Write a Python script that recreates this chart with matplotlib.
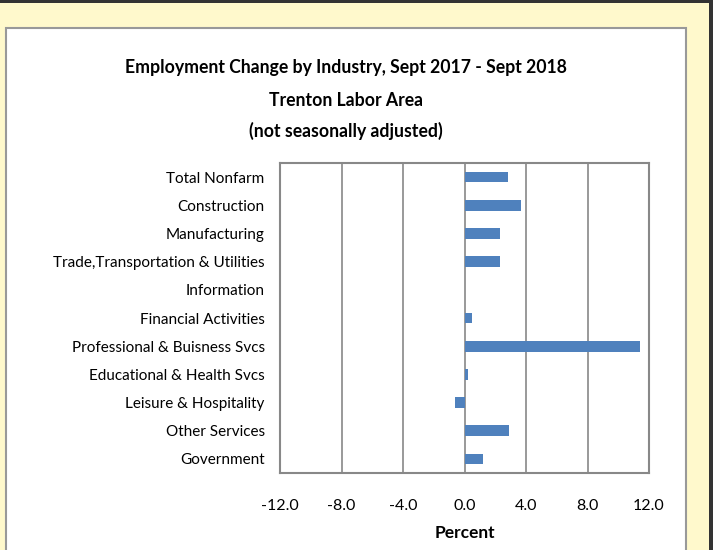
import matplotlib
matplotlib.use("Agg")
import matplotlib.pyplot as plt
from matplotlib.patches import Rectangle
import numpy as np

# Datos
industries = [
    "Total Nonfarm",
    "Construction",
    "Manufacturing",
    "Trade,Transportation & Utilities",
    "Information",
    "Financial Activities",
    "Professional & Buisness Svcs",
    "Educational & Health Svcs",
    "Leisure & Hospitality",
    "Other Services",
    "Government",
]
pct_change = [2.8, 3.7, 2.3, 2.3, 0.0, 0.5, 11.4, 0.2, -0.6, 2.9, 1.2]
x_ticks = [-12, -8, -4, 0, 4, 8, 12]

title_lines = [
    "Employment Change by Industry, Sept 2017 - Sept 2018",
    "Trenton Labor Area",
    "(not seasonally adjusted)",
]

plt.rcParams["font.family"] = ["Lato", "DejaVu Sans"]

W, H = 713, 550
fig = plt.figure(figsize=(W / 100, H / 100), dpi=100)
fig.patch.set_facecolor("#FFF9CC")

# marco oscuro arriba y a la derecha
fig.patches.append(Rectangle((0, 1 - 3 / H), 1, 3 / H, transform=fig.transFigure,
                             facecolor="#333333", edgecolor="none", zorder=0))
fig.patches.append(Rectangle((1 - 4 / W, 0), 4 / W, 1, transform=fig.transFigure,
                             facecolor="#333333", edgecolor="none", zorder=0))
# panel blanco
fig.patches.append(Rectangle((6 / W, -0.05), (686 - 6) / W, 1.05 - 28 / H,
                             transform=fig.transFigure, facecolor="white",
                             edgecolor="#999999", linewidth=1.5, zorder=0))

ax = fig.add_axes([280 / W, 1 - 473 / H, 369 / W, 310 / H])
ax.set_zorder(5)
y = np.arange(len(industries))
ax.barh(y, pct_change, height=0.38, color="#4F81BD", zorder=3)

ax.set_xlim(-12, 12)
ax.set_ylim(len(industries) - 0.5, -0.5)
ax.set_xticks(x_ticks)
ax.set_xticklabels([f"{v:.1f}" for v in x_ticks], fontsize=11.5)
ax.set_yticks(y)
ax.set_yticklabels(industries, fontsize=11)
ax.tick_params(axis="x", length=0, pad=19)
ax.tick_params(axis="y", length=0, pad=11)
ax.grid(axis="x", color="#888888", linewidth=1.2, zorder=1)
for s in ax.spines.values():
    s.set_color("#888888")
    s.set_linewidth(1.5)

ax.set_xlabel("Percent", fontsize=12.5, fontweight="bold", labelpad=8)

for line, yy in zip(title_lines, [68, 100, 131]):
    fig.text(346 / W, 1 - yy / H, line, ha="center", va="center",
             fontsize=12.7, fontweight="bold", zorder=6)

fig.savefig("out.png", dpi=100, facecolor=fig.get_facecolor())
